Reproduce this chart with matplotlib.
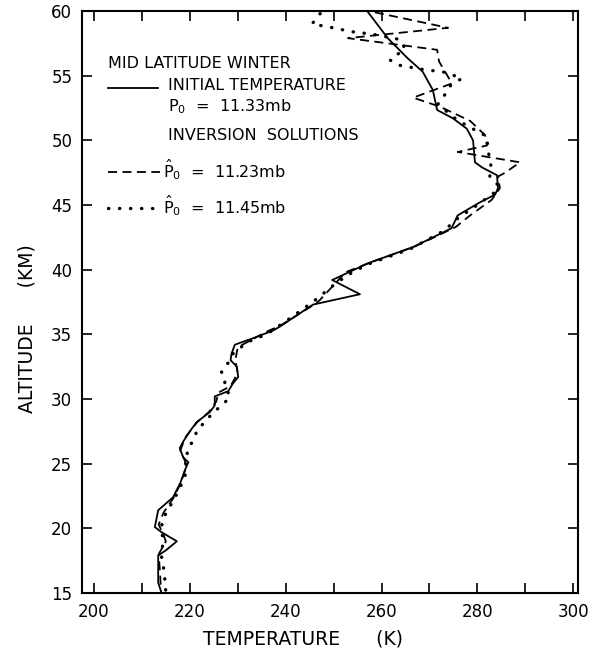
import matplotlib
matplotlib.use("Agg")
import matplotlib.pyplot as plt
from matplotlib.ticker import MultipleLocator

# Initial temperature profile, P0 = 11.33 mb  (temperature K, altitude km)
t_init = [257.0, 261.3, 265.3, 268.6, 270.7, 271.6, 274.9, 277.8, 279.1, 279.5,
          281.0, 284.1, 284.3, 283.7, 280.5, 275.9, 274.6, 266.6, 257.2, 249.7,
          255.5, 245.7, 238.8, 237.4, 233.2, 229.4, 228.7, 228.5, 229.8, 230.1,
          229.0, 228.0, 225.2, 225.2, 224.2, 221.4, 220.0, 218.6, 217.9, 218.6,
          219.7, 219.3, 218.0, 216.5, 213.4, 212.7, 214.1, 217.3, 215.0, 213.4,
          213.4, 214.1]
z_init = [60.0, 57.9, 56.4, 55.3, 53.9, 52.35, 51.7, 50.9, 50.0, 48.3,
          47.9, 47.3, 46.3, 45.8, 45.2, 44.2, 43.2, 41.75, 40.5, 39.2,
          38.1, 37.3, 35.6, 35.3, 34.7, 34.2, 33.5, 33.0, 32.5, 31.7,
          31.2, 30.6, 30.2, 29.5, 29.0, 28.2, 27.5, 26.7, 26.2, 25.5,
          25.1, 24.8, 23.5, 22.4, 21.4, 20.1, 19.7, 19.0, 18.3, 17.9,
          15.8, 15.0]

# Inversion solution, P0 = 11.23 mb
t_low = [258.6, 273.9, 253.0, 271.6, 272.0, 274.7, 266.6, 272.2, 278.5, 281.6,
         282.0, 275.9, 288.9, 285.8, 284.3, 284.7, 283.0, 278.5, 275.5, 267.0,
         258.0, 252.5, 250.5, 247.0, 245.5, 239.0, 236.0, 233.0, 230.0, 229.5,
         230.0, 228.5, 226.0, 225.5, 224.0, 221.5, 219.0, 218.0, 219.0, 219.0,
         218.0, 216.5, 214.5, 213.5, 214.5, 215.0, 213.5, 213.8, 214.0]
z_low = [59.9, 58.7, 57.9, 57.0, 56.1, 54.4, 53.3, 52.6, 51.5, 50.4,
         49.6, 49.1, 48.3, 47.5, 47.2, 46.3, 45.4, 44.2, 43.3, 41.8,
         40.6, 39.8, 39.0, 37.6, 37.2, 35.7, 35.2, 34.6, 34.0, 33.0,
         32.0, 31.0, 30.5, 29.8, 29.0, 28.2, 27.0, 26.0, 25.2, 24.5,
         23.4, 22.3, 21.2, 20.3, 19.5, 19.0, 18.0, 16.5, 15.0]

# Inversion solution, P0 = 11.45 mb
t_high = [247.2, 245.5, 249.9, 253.8, 258.2, 263.8, 264.9, 261.8, 263.8, 269.1,
          272.8, 276.8, 274.3, 273.0, 271.8, 273.2, 275.7, 278.5, 282.0, 282.2,
          282.8, 282.6, 284.3, 283.7, 280.0, 276.0, 273.0, 266.0, 257.0, 253.0,
          250.0, 246.0, 240.0, 236.0, 232.0, 229.0, 228.0, 226.6, 227.3, 227.3,
          228.4, 227.0, 225.0, 222.8, 221.4, 221.1, 219.5, 219.0, 217.5, 216.0,
          214.5, 214.0, 214.5, 214.0, 214.5, 214.8, 215.0]
z_high = [59.8, 59.0, 58.7, 58.4, 58.2, 57.8, 57.1, 56.2, 55.8, 55.45,
          55.3, 54.8, 54.2, 53.4, 52.8, 52.35, 51.6, 51.0, 50.3, 49.3,
          48.1, 47.2, 46.55, 46.0, 45.0, 44.0, 43.0, 41.6, 40.4, 39.6,
          38.8, 37.6, 36.0, 35.0, 34.4, 33.5, 32.8, 32.1, 31.6, 31.0,
          30.2, 29.6, 29.0, 28.1, 27.5, 27.1, 26.0, 24.0, 22.8, 21.8,
          20.8, 20.0, 19.0, 18.0, 17.0, 16.0, 15.0]

x_ticks = [200, 220, 240, 260, 280, 300]
y_ticks = [15, 20, 25, 30, 35, 40, 45, 50, 55, 60]

plt.rcParams['font.family'] = ['DejaVu Sans']

fig = plt.figure(figsize=(6.12, 6.57), dpi=100)
ax = fig.add_axes([82 / 612, 1 - 593 / 657, 496 / 612, 582 / 657])

ax.plot(t_init, z_init, color='black', lw=1.3)
ax.plot(t_low, z_low, color='black', lw=1.3, ls=(0, (5, 3)))
ax.plot(t_high, z_high, color='black', lw=2.4, ls=(0, (0.1, 3.2)),
        dash_capstyle='round')

ax.set_xlim(197.5, 301.0)
ax.set_ylim(15, 60)
ax.set_xticks(x_ticks)
ax.set_yticks(y_ticks)
ax.xaxis.set_minor_locator(MultipleLocator(10))
ax.tick_params(which='both', direction='in', length=7, width=1.2,
               top=True, right=True, labelsize=12, pad=7)
for s in ax.spines.values():
    s.set_linewidth(1.5)

ax.set_xlabel('TEMPERATURE      (K)', fontsize=13.5)
ax.xaxis.set_label_coords(0.446, -0.079)
ax.xaxis.label.set_va('center')
ax.set_ylabel('ALTITUDE      (KM)', fontsize=13.5)
ax.yaxis.set_label_coords(-0.111, 0.455)
ax.yaxis.label.set_va('center')

# hand-drawn legend block in pixel positions
def px(x, y):
    return x / 612, 1 - y / 657

fs = 11.5
fig.text(*px(108, 63), 'MID LATITUDE WINTER', fontsize=fs, va='center')
fig.add_artist(plt.Line2D([108 / 612, 158 / 612], [1 - 88 / 657] * 2,
                          color='black', lw=1.3))
fig.text(*px(168, 85), 'INITIAL TEMPERATURE', fontsize=fs, va='center')
fig.text(*px(168, 107), r'P$_0$  =  11.33mb', fontsize=fs, va='center')
fig.text(*px(168, 135), 'INVERSION  SOLUTIONS', fontsize=fs, va='center')
fig.add_artist(plt.Line2D([108 / 612, 160 / 612], [1 - 172 / 657] * 2,
                          color='black', lw=1.3, ls=(0, (5, 3))))
fig.text(*px(163, 170), r'$\hat{\mathrm{P}}_0$  =  11.23mb', fontsize=fs,
         va='center')
fig.add_artist(plt.Line2D([108 / 612, 160 / 612], [1 - 208 / 657] * 2,
                          color='black', lw=2.4, ls=(0, (0.1, 3.2)),
                          dash_capstyle='round'))
fig.text(*px(163, 206), r'$\hat{\mathrm{P}}_0$  =  11.45mb', fontsize=fs,
         va='center')

fig.savefig('out.png', dpi=100)
